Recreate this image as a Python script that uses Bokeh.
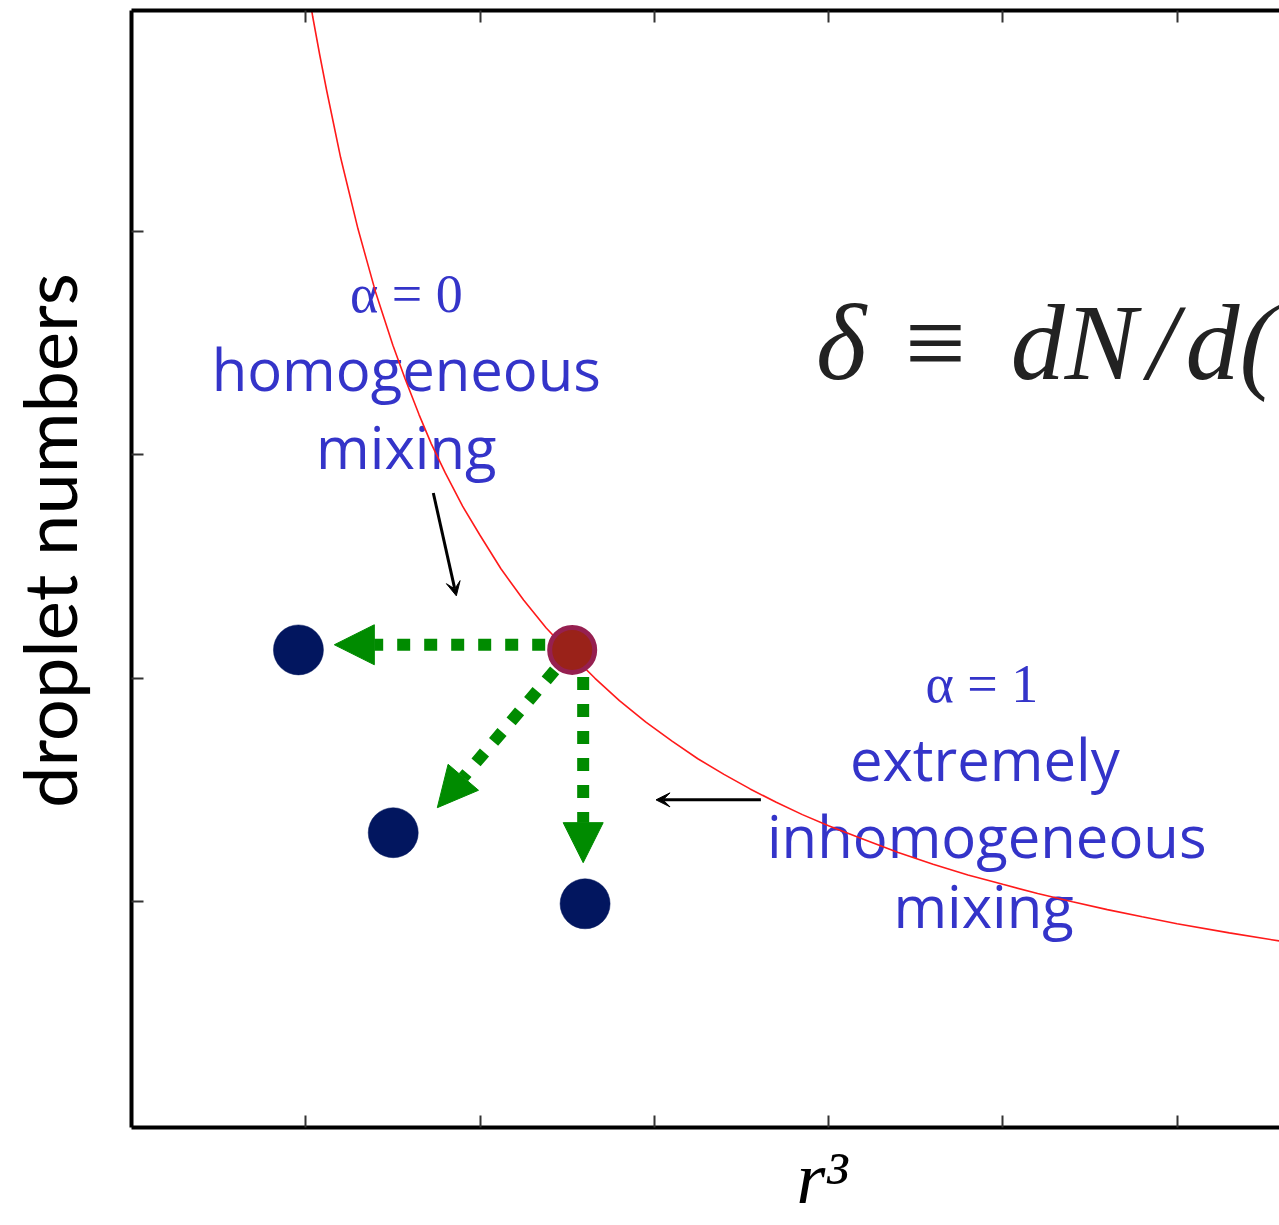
from bokeh.plotting import figure
from bokeh.models import (Arrow, NormalHead, VeeHead, Title, LinearAxis,
                          FixedTicker, Range1d, ColumnDataSource)
from bokeh.core.properties import value
from bokeh.embed import file_html
from bokeh.resources import INLINE

# ---------------- data ----------------
x_ticks = [1, 2, 3, 4, 5, 6]
y_ticks = [1, 2, 3, 4]

# red curve  N(r^3)
curve_x = [1.00, 1.04, 1.08, 1.12, 1.16, 1.20, 1.25, 1.30, 1.35, 1.40, 1.45,
           1.50, 1.57, 1.65, 1.72, 1.80, 1.90, 2.00, 2.12, 2.25, 2.38, 2.525,
           2.66, 2.80, 2.95, 3.10, 3.25, 3.40, 3.55, 3.70, 3.85, 4.00, 4.20,
           4.40, 4.60, 4.80, 5.00, 5.20, 5.40, 5.60, 5.80, 6.00, 6.30, 6.60]
curve_y = [5.15, 4.96, 4.79, 4.63, 4.48, 4.33, 4.17, 4.01, 3.87, 3.73, 3.61,
           3.49, 3.34, 3.18, 3.05, 2.92, 2.77, 2.64, 2.49, 2.35, 2.225, 2.105,
           2.00, 1.90, 1.805, 1.72, 1.64, 1.57, 1.505, 1.445, 1.39, 1.34, 1.28,
           1.22, 1.168, 1.12, 1.078, 1.037, 1.000, 0.965, 0.933, 0.902, 0.861,
           0.823]

# initial droplet state (on the curve)
start_x = [2.529]
start_y = [2.127]

# final droplet states after mixing
final_x = [0.958, 1.502, 2.603]
final_y = [2.127, 1.309, 0.991]

# green mixing arrows
garrow_x0 = [2.529, 2.529, 2.592]
garrow_y0 = [2.150, 2.127, 2.127]
garrow_x1 = [1.164, 1.755, 2.592]
garrow_y1 = [2.150, 1.421, 1.175]

# black pointer arrows
barrow_x0 = [1.732, 3.612]
barrow_y0 = [2.829, 1.456]
barrow_x1 = [1.864, 3.010]
barrow_y1 = [2.369, 1.456]

# annotation texts
hand_text = ["homogeneous", "mixing", "extremely", "inhomogeneous", "mixing"]
hand_x = [1.577, 1.577, 4.897, 4.908, 4.890]
hand_y = [3.388, 3.038, 1.640, 1.295, 0.983]

alpha_text = ["α = 0", "α = 1"]
alpha_x = [1.577, 4.880]
alpha_y = [3.720, 1.975]

formula_text = ["δ", "≡", "dN", "/", "d("]
formula_x = [3.928, 4.400, 5.046, 5.832, 6.049]
formula_y = [3.501, 3.501, 3.501, 3.501, 3.501]

x_label = "r³"
y_label = "droplet numbers"

# ---------------- styles ----------------
BLUE_TXT = "#3434c9"
GREEN = "#008b00"
NAVY = "#02165f"
RED_FILL = "#9a2219"
RED_RING = "#962050"

p = figure(width=1279, height=1225, output_backend="svg", toolbar_location=None,
           x_range=Range1d(0, 6.588), y_range=Range1d(-0.01, 4.988),
           min_border_left=130, min_border_right=0, min_border_top=10,
           min_border_bottom=97, background_fill_color="white",
           border_fill_color="white", outline_line_color=None)
p.grid.visible = False

bottom_axis = p.xaxis[0]
left_axis = p.yaxis[0]
top_axis = LinearAxis()
p.add_layout(top_axis, "above")

for ax, ticks in ((bottom_axis, x_ticks), (top_axis, x_ticks), (left_axis, y_ticks)):
    ax.ticker = FixedTicker(ticks=ticks, minor_ticks=[])
    ax.axis_line_width = 4
    ax.axis_line_color = "black"
    ax.major_tick_in = 12
    ax.major_tick_out = 0
    ax.major_tick_line_width = 2
    ax.major_tick_line_color = "#333333"
    ax.minor_tick_line_color = None
    ax.minor_tick_in = 0
    ax.minor_tick_out = 0
    ax.major_label_text_font_size = "0px"
    ax.major_label_text_color = None
    ax.major_label_standoff = 0

# y label: padded at its start so that it sits a little above the frame centre
left_axis.axis_label = "\u00a0\u00a0\u00a0" + y_label
left_axis.axis_label_text_font = "Lato"
left_axis.axis_label_text_font_size = "74px"
left_axis.axis_label_text_font_style = "normal"
left_axis.axis_label_text_color = "black"
left_axis.axis_label_standoff = 39

# texts (drawn first, curve goes over them)
hand_src = ColumnDataSource(dict(x=hand_x, y=hand_y, t=hand_text))
p.text(x="x", y="y", text="t", source=hand_src, text_color=BLUE_TXT,
       text_font=value("Open Sans"), text_font_size="58px",
       text_align="center", text_baseline="alphabetic")

alpha_src = ColumnDataSource(dict(x=alpha_x, y=alpha_y, t=alpha_text))
p.text(x="x", y="y", text="t", source=alpha_src, text_color=BLUE_TXT,
       text_font=value("Liberation Serif"), text_font_size="54px",
       text_align="center", text_baseline="alphabetic")

form_src = ColumnDataSource(dict(x=formula_x, y=formula_y, t=formula_text))
p.text(x="x", y="y", text="t", source=form_src, text_color="#222222",
       text_font=value("Liberation Serif"), text_font_style="italic",
       text_font_size="108px", text_align="left", text_baseline="alphabetic")

# green arrows under the droplets
g_src = ColumnDataSource(dict(x0=garrow_x0, y0=garrow_y0, x1=garrow_x1, y1=garrow_y1))
p.add_layout(Arrow(source=g_src, x_start="x0", y_start="y0", x_end="x1", y_end="y1",
                   line_color=GREEN, line_width=12, line_dash="13 14",
                   end=NormalHead(size=40, fill_color=GREEN, line_color=GREEN,
                                  line_width=1),
                   level="underlay"))

# red curve
p.line(curve_x, curve_y, line_color="#ff1a1a", line_width=1.6)

# droplets
p.scatter(final_x, final_y, size=50, fill_color=NAVY, line_color=NAVY, line_width=0.5)
p.scatter(start_x, start_y, size=45, fill_color=RED_FILL, line_color=RED_RING,
          line_width=5)

# black arrows
b_src = ColumnDataSource(dict(x0=barrow_x0, y0=barrow_y0, x1=barrow_x1, y1=barrow_y1))
p.add_layout(Arrow(source=b_src, x_start="x0", y_start="y0", x_end="x1", y_end="y1",
                   line_color="black", line_width=3,
                   end=VeeHead(size=14, fill_color="black", line_color="black",
                               line_width=1)))

# x label as a side title, shifted right like the reference
p.add_layout(Title(text=x_label, align="left", offset=665, standoff=14,
                   text_font="Liberation Serif", text_font_size="74px",
                   text_font_style="italic", text_color="black"), "below")

open("out.html", "w").write(file_html(p, INLINE))
